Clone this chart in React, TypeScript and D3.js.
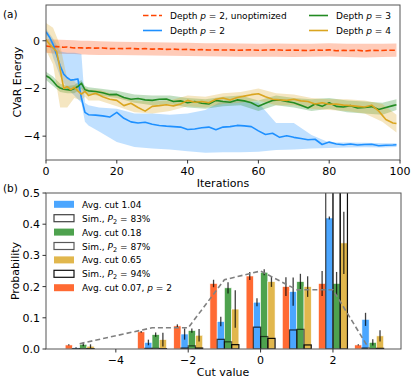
import React from 'react';
import * as d3 from 'd3';

const W = 416, H = 381;
const FONT = 'DejaVu Sans';

// ---- panel (a): CVaR energy vs iterations ----
const iters = [0,1,2,3,4,5,6,7,8,9,10,11,12,14,16,18,20,22,24,26,28,30,32,34,36,38,40,42,44,46,48,50,52,54,56,58,60,62,64,66,68,70,72,74,76,78,80,82,84,86,88,90,92,94,96,98,99];
const unoptMean = [-0.22,-0.24,-0.25,-0.24,-0.26,-0.27,-0.26,-0.28,-0.3,-0.29,-0.3,-0.31,-0.3,-0.31,-0.3,-0.33,-0.32,-0.33,-0.32,-0.34,-0.33,-0.35,-0.34,-0.36,-0.35,-0.37,-0.36,-0.38,-0.37,-0.39,-0.38,-0.39,-0.38,-0.4,-0.39,-0.38,-0.4,-0.39,-0.38,-0.39,-0.4,-0.39,-0.4,-0.41,-0.39,-0.4,-0.38,-0.42,-0.4,-0.41,-0.4,-0.43,-0.4,-0.41,-0.4,-0.4,-0.39];
const p2Mean = [0.38,0.15,-0.15,-0.6,-1.05,-1.4,-1.55,-1.65,-1.63,-1.6,-2.4,-3.0,-3.1,-3.12,-3.15,-3.2,-3.0,-3.25,-3.4,-3.45,-3.42,-3.5,-3.55,-3.58,-3.6,-3.62,-3.72,-3.7,-3.65,-3.62,-3.73,-3.62,-3.6,-3.55,-3.57,-3.6,-3.78,-3.93,-3.88,-4.05,-3.98,-4.05,-4.1,-4.15,-4.13,-4.35,-4.25,-4.33,-4.36,-4.33,-4.37,-4.35,-4.34,-4.4,-4.38,-4.37,-4.36];
const p3Mean = [-1.47,-1.55,-1.7,-1.88,-1.98,-2.03,-2.05,-2.07,-2.0,-1.92,-1.78,-2.05,-2.1,-2.13,-2.18,-2.26,-2.25,-2.38,-2.45,-2.42,-2.48,-2.5,-2.45,-2.44,-2.55,-2.52,-2.6,-2.55,-2.62,-2.65,-2.5,-2.55,-2.58,-2.48,-2.52,-2.6,-2.75,-2.62,-2.5,-2.48,-2.55,-2.6,-2.7,-2.82,-2.65,-2.75,-2.6,-2.75,-2.78,-2.72,-2.82,-2.8,-2.76,-2.88,-2.8,-2.72,-2.68];
const p4Mean = [0.05,-0.15,-0.3,-0.45,-1.2,-2.0,-1.92,-2.05,-1.95,-2.1,-2.24,-2.12,-2.3,-2.2,-2.35,-2.45,-2.5,-2.72,-2.62,-2.8,-2.95,-2.75,-2.72,-2.68,-2.73,-2.65,-2.5,-2.58,-2.55,-2.6,-2.45,-2.4,-2.48,-2.38,-2.32,-2.26,-2.22,-2.35,-2.45,-2.48,-2.5,-2.45,-2.52,-2.55,-2.65,-2.6,-2.66,-2.65,-2.7,-2.72,-2.75,-2.78,-2.7,-2.95,-3.3,-3.45,-3.47];

const bandIters = [0,2,4,6,8,10,11,12,15,20,25,30,35,40,45,50,55,60,65,70,75,80,85,90,95,99];
const unoptHi = [0.08,0.05,0.04,0.03,0.02,0.0,0.0,0.0,-0.02,-0.04,-0.05,-0.06,-0.07,-0.08,-0.1,-0.1,-0.11,-0.12,-0.11,-0.12,-0.12,-0.1,-0.12,-0.13,-0.12,-0.11];
const unoptLo = [-0.5,-0.53,-0.54,-0.55,-0.56,-0.58,-0.58,-0.59,-0.6,-0.6,-0.61,-0.62,-0.63,-0.64,-0.65,-0.66,-0.67,-0.67,-0.67,-0.68,-0.67,-0.66,-0.68,-0.7,-0.68,-0.67];
const p2Hi = [0.5,0.1,-0.45,-0.5,-0.5,-0.55,-2.6,-2.7,-2.8,-2.85,-3.05,-3.05,-3.1,-3.05,-2.9,-2.5,-2.5,-2.6,-3.45,-3.45,-3.95,-4.27,-4.27,-4.28,-4.3,-4.3];
const p2Lo = [0.25,-0.7,-1.5,-2.0,-2.3,-2.6,-3.4,-3.55,-3.8,-4.25,-4.45,-4.52,-4.56,-4.63,-4.7,-4.68,-4.68,-4.65,-4.58,-4.56,-4.52,-4.5,-4.48,-4.47,-4.48,-4.45];
const p3Hi = [-1.3,-1.5,-1.8,-1.9,-1.85,-1.65,-1.9,-1.95,-2.0,-2.1,-2.25,-2.3,-2.3,-2.4,-2.45,-2.35,-2.3,-2.5,-2.3,-2.4,-2.45,-2.4,-2.5,-2.55,-2.6,-2.45];
const p3Lo = [-1.65,-1.9,-2.15,-2.2,-2.2,-2.0,-2.2,-2.25,-2.3,-2.4,-2.6,-2.7,-2.65,-2.8,-2.85,-2.75,-2.7,-2.95,-2.7,-2.8,-2.95,-2.85,-3.0,-3.05,-3.1,-2.9];
const p4Hi = [0.75,0.55,-0.2,-1.6,-1.7,-2.0,-1.95,-2.05,-2.05,-2.3,-2.5,-2.55,-2.5,-2.3,-2.35,-2.2,-2.15,-2.0,-2.2,-2.25,-2.4,-2.45,-2.45,-2.5,-2.65,-3.1];
const p4Lo = [-0.4,-1.0,-2.8,-2.8,-2.4,-2.5,-2.35,-2.5,-2.5,-2.75,-3.0,-3.05,-2.95,-2.75,-2.8,-2.65,-2.6,-2.5,-2.7,-2.7,-2.85,-2.9,-2.95,-3.05,-3.4,-3.85];

// ---- panel (b): cut value distribution ----
const cutValues = [-5,-3,-2,-1,0,1,2,3];
const probP2 = [0.013,0.055,0.074,0.21,0.234,0.2,0.21,0.013];
const errP2 = [0.002,0.003,0.005,0.012,0.013,0.03,0.04,0.002];
const probA = [0.004,0.021,0.048,0.088,0.15,0.184,0.42,0.095];
const errA = [0.002,0.009,0.018,0.015,0.013,0.045,0.005,0.021];
const probB = [0.015,0.046,0.059,0.196,0.246,0.216,0.21,0.021];
const errB = [0.006,0.007,0.007,0.018,0.01,0.025,0.037,0.01];
const probC = [0.009,0.03,0.044,0.128,0.216,0.2,0.34,0.042];
const errC = [0.006,0.022,0.02,0.06,0.017,0.033,0.1,0.018];
const simA = [0.001,0.002,0.003,0.031,0.07,0.061,0.83,0.003];
const simB = [0.001,0.002,0.01,0.023,0.04,0.063,0.87,0.001];
const simC = [0.001,0.001,0.003,0.014,0.034,0.013,0.94,0.002];
const idealDist = [0.017,0.068,0.068,0.222,0.25,0.19,0.19,0.0];

const ORANGE = 'orangered', BLUE = 'dodgerblue', GREEN = 'forestgreen', GOLD = 'goldenrod';

const fmtMinus = (s: string) => s.replace('-', '\u2212');

export default function App() {
  // scales (a)
  const ax = d3.scaleLinear().domain([0, 100]).range([46, 400]);
  const ay = d3.scaleLinear().domain([-5, 1.5]).range([160, 5]);
  // scales (b)
  const bx = d3.scaleLinear().domain([-5.93, 3.88]).range([46, 401]);
  const by = d3.scaleLinear().domain([0, 0.5]).range([349, 193]);

  const line = (vals: number[]) =>
    d3.line<number>().x((_, i) => ax(iters[i])).y(d => ay(d))(vals) || '';
  const band = (lo: number[], hi: number[]) =>
    d3.area<number>().x(d => ax(d)).y0((_, i) => ay(lo[i])).y1((_, i) => ay(hi[i]))(bandIters) || '';

  const bands = [
    { lo: unoptLo, hi: unoptHi, c: ORANGE },
    { lo: p2Lo, hi: p2Hi, c: BLUE },
    { lo: p3Lo, hi: p3Hi, c: GREEN },
    { lo: p4Lo, hi: p4Hi, c: GOLD },
  ];
  const lines = [
    { v: unoptMean, c: ORANGE, dash: '5.5,2.5' },
    { v: p2Mean, c: BLUE },
    { v: p3Mean, c: GREEN },
    { v: p4Mean, c: GOLD },
  ];

  const bw = 0.2;
  const barSeries = [
    { v: probP2, e: errP2, c: ORANGE, off: -0.3 },
    { v: probA, e: errA, c: BLUE, off: -0.1 },
    { v: probB, e: errB, c: GREEN, off: 0.1 },
    { v: probC, e: errC, c: GOLD, off: 0.3 },
  ];
  const simSeries = [
    { v: simA, off: -0.1, op: 0.75 },
    { v: simB, off: 0.1, op: 0.65 },
    { v: simC, off: 0.3, op: 0.95 },
  ];

  const idealPath = d3.line<number>().x((_, i) => bx(cutValues[i])).y(d => by(d))(idealDist) || '';

  const legB = [
    { t: 'Avg. cut 1.04', c: BLUE },
    { sim: '83%', op: 0.75 },
    { t: 'Avg. cut 0.18', c: GREEN },
    { sim: '87%', op: 0.65 },
    { t: 'Avg. cut 0.65', c: GOLD },
    { sim: '94%', op: 0.95 },
    { t: 'Avg. cut 0.07, ', c: ORANGE, p2: true },
  ];

  return (
    <svg width={W} height={H} style={{ position: 'absolute', left: 0, top: 0, background: '#fff' }}
      fontFamily={FONT}>
      <defs>
        <clipPath id="clipA"><rect x={46} y={5} width={354} height={155} /></clipPath>
        <clipPath id="clipB"><rect x={46} y={193} width={355} height={156} /></clipPath>
      </defs>

      {/* ---------- panel (a) ---------- */}
      <text x={3} y={18} fontSize={10.5}>(a)</text>
      <g clipPath="url(#clipA)">
        {bands.map((b, i) => (
          <path key={i} d={band(b.lo, b.hi)} fill={b.c} fillOpacity={0.28} stroke="none" />
        ))}
        {lines.map((l, i) => (
          <path key={i} d={line(l.v)} fill="none" stroke={l.c} strokeWidth={1.6}
            strokeDasharray={l.dash} strokeLinejoin="round" />
        ))}
      </g>
      <rect x={46} y={5} width={354} height={155} fill="none" stroke="#555" strokeWidth={1} />
      {ax.ticks(5).map(t => (
        <g key={t}>
          <line x1={ax(t)} x2={ax(t)} y1={160} y2={163.5} stroke="#333" />
          <text x={ax(t)} y={175} fontSize={11} textAnchor="middle">{t}</text>
        </g>
      ))}
      {[-4, -2, 0].map(t => (
        <g key={t}>
          <line x1={42.5} x2={46} y1={ay(t)} y2={ay(t)} stroke="#333" />
          <text x={40} y={ay(t) + 4} fontSize={11} textAnchor="end">{fmtMinus(String(t))}</text>
        </g>
      ))}
      <text x={223} y={187} fontSize={11} textAnchor="middle">Iterations</text>
      <text transform="translate(21,82) rotate(-90)" fontSize={11} textAnchor="middle">CVaR Energy</text>

      {/* legend (a) */}
      <g fontSize={9}>
        <line x1={143} x2={162} y1={15.5} y2={15.5} stroke={ORANGE} strokeWidth={1.6} strokeDasharray="5.5,2.5" />
        <text x={170} y={19}>Depth <tspan fontStyle="italic">p</tspan> = 2, unoptimized</text>
        <line x1={143} x2={162} y1={30.5} y2={30.5} stroke={BLUE} strokeWidth={1.6} />
        <text x={170} y={34}>Depth <tspan fontStyle="italic">p</tspan> = 2</text>
        <line x1={309} x2={328} y1={15.5} y2={15.5} stroke={GREEN} strokeWidth={1.6} />
        <text x={336} y={19}>Depth <tspan fontStyle="italic">p</tspan> = 3</text>
        <line x1={309} x2={328} y1={30.5} y2={30.5} stroke={GOLD} strokeWidth={1.6} />
        <text x={336} y={34}>Depth <tspan fontStyle="italic">p</tspan> = 4</text>
      </g>

      {/* ---------- panel (b) ---------- */}
      <text x={3} y={192} fontSize={10.5}>(b)</text>
      <g clipPath="url(#clipB)">
        {barSeries.map((s, si) => (
          <g key={si}>
            {s.v.map((v, i) => {
              const x0 = bx(cutValues[i] + s.off - bw / 2);
              const x1 = bx(cutValues[i] + s.off + bw / 2);
              return <rect key={i} x={x0} y={by(v)} width={x1 - x0} height={by(0) - by(v)}
                fill={s.c} fillOpacity={0.8} stroke="#fff" strokeWidth={0.6} />;
            })}
          </g>
        ))}
        {simSeries.map((s, si) => (
          <g key={si}>
            {s.v.map((v, i) => {
              const x0 = bx(cutValues[i] + s.off - bw / 2);
              const x1 = bx(cutValues[i] + s.off + bw / 2);
              return <rect key={i} x={x0} y={by(v)} width={x1 - x0} height={by(0) - by(v)}
                fill="none" stroke="#000" strokeOpacity={s.op} strokeWidth={1.2} />;
            })}
          </g>
        ))}
        {barSeries.map((s, si) => (
          <g key={si}>
            {s.v.map((v, i) => {
              const cx = bx(cutValues[i] + s.off);
              return <line key={i} x1={cx} x2={cx} y1={by(v - s.e[i])} y2={by(v + s.e[i])}
                stroke="#000" strokeOpacity={0.75} strokeWidth={1.3} />;
            })}
          </g>
        ))}
        <path d={idealPath} fill="none" stroke="#808080" strokeWidth={1.6} strokeDasharray="5,3" />
      </g>
      <rect x={46} y={193} width={355} height={156} fill="none" stroke="#555" strokeWidth={1} />
      {[-4, -2, 0, 2].map(t => (
        <g key={t}>
          <line x1={bx(t)} x2={bx(t)} y1={349} y2={352.5} stroke="#333" />
          <text x={bx(t)} y={364} fontSize={11} textAnchor="middle">{fmtMinus(String(t))}</text>
        </g>
      ))}
      {by.ticks(5).map(t => (
        <g key={t}>
          <line x1={42.5} x2={46} y1={by(t)} y2={by(t)} stroke="#333" />
          <text x={40} y={by(t) + 4} fontSize={11} textAnchor="end">{d3.format('.1f')(t)}</text>
        </g>
      ))}
      <text x={223} y={376} fontSize={11} textAnchor="middle">Cut value</text>
      <text transform="translate(19,271) rotate(-90)" fontSize={11} textAnchor="middle">Probability</text>

      {/* legend (b) */}
      <g fontSize={9}>
        {legB.map((l, i) => {
          const y = 204.3 + i * 13.9;
          return (
            <g key={i}>
              {l.sim ? (
                <rect x={54} y={y - 3.5} width={20} height={7} fill="#fff" stroke="#000"
                  strokeOpacity={l.op} strokeWidth={1.2} />
              ) : (
                <rect x={54} y={y - 3.5} width={20} height={7} fill={l.c} fillOpacity={0.8} />
              )}
              {l.sim ? (
                <text x={82} y={y + 3.5}>Sim., <tspan fontStyle="italic">P</tspan>
                  <tspan fontSize={6.5} dy={2}>2</tspan><tspan dy={-2}> = {l.sim}</tspan></text>
              ) : (
                <text x={82} y={y + 3.5}>{l.t}{l.p2 ? <><tspan fontStyle="italic">p</tspan> = 2</> : null}</text>
              )}
            </g>
          );
        })}
      </g>
    </svg>
  );
}
